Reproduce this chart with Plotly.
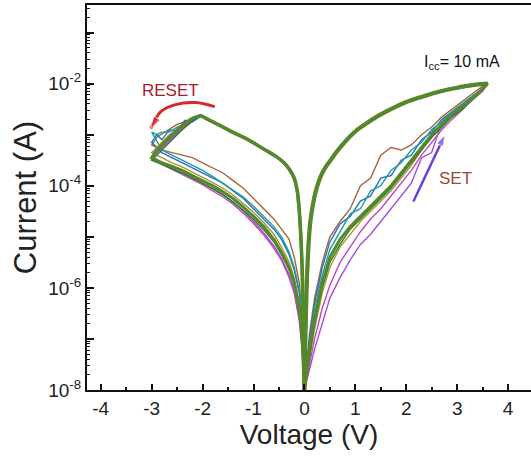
import plotly.graph_objects as go

# ---------------- data (log10 of current in A) ----------------
SET_V = [0.0, 0.1, 0.2, 0.35, 0.5, 0.7, 0.9, 1.1, 1.3, 1.5, 1.7, 1.9, 2.1, 2.3, 2.5, 2.7, 2.9, 3.1, 3.3, 3.5, 3.6]
LRS_POS_V = [3.6, 3.45, 3.3, 3.15, 3.0, 2.8, 2.6, 2.4, 2.2, 2.0, 1.8, 1.6, 1.4, 1.2, 1.04, 0.88, 0.71, 0.6,
             0.5, 0.42, 0.35, 0.28, 0.22, 0.17, 0.12, 0.09, 0.07, 0.05, 0.035, 0.02, 0.01, 0.0]
LRS_POS_LOG = [-2.0, -2.01, -2.03, -2.05, -2.08, -2.12, -2.17, -2.23, -2.29, -2.36, -2.45, -2.55, -2.66, -2.79,
               -2.9, -3.05, -3.24, -3.38, -3.52, -3.63, -3.75, -3.92, -4.12, -4.35, -4.67, -5.0, -5.35, -5.8,
               -6.3, -6.9, -7.5, -8.0]
LRS_NEG_V = [0.0, -0.01, -0.02, -0.03, -0.045, -0.07, -0.1, -0.14, -0.2, -0.3, -0.4, -0.55, -0.73, -0.9,
             -1.1, -1.39, -1.6, -1.8, -1.95, -2.05]
LRS_NEG_LOG = [-8.0, -7.4, -6.8, -6.2, -5.6, -5.0, -4.5, -4.1, -3.85, -3.67, -3.55, -3.43, -3.32, -3.22,
               -3.1, -2.96, -2.85, -2.75, -2.67, -2.62]
RS_V = [-2.05, -2.2, -2.35, -2.5, -2.65, -2.8, -2.9, -3.0]
RET_V = [-3.0, -2.8, -2.6, -2.4, -2.2, -2.0, -1.8, -1.6, -1.4, -1.2, -1.0, -0.8, -0.6, -0.45, -0.3, -0.2, -0.1, -0.05, 0.0]

cycle_colors = ["#a24be0", "#c048b8", "#a8643c", "#2d6fc0", "#1a9e9e", "#a39a2a", "#2f7a2f", "#55882a"]

set_log = [
    [-8.0, -7.6, -7.2, -6.7, -6.2, -5.8, -5.45, -5.15, -4.95, -4.7, -4.45, -4.2, -3.95, -3.45, -3.35, -2.75, -2.55, -2.4, -2.25, -2.1, -2.0],
    [-8.0, -7.5, -7.0, -6.4, -5.95, -5.5, -5.2, -4.9, -4.65, -4.45, -4.2, -3.95, -3.7, -3.4, -3.15, -2.9, -2.7, -2.5, -2.32, -2.15, -2.0],
    [-8.0, -6.9, -6.2, -5.5, -5.0, -4.7, -4.45, -4.0, -3.85, -3.4, -3.25, -3.3, -3.2, -3.0, -2.85, -2.65, -2.5, -2.35, -2.2, -2.05, -2.0],
    [-8.0, -7.0, -6.3, -5.6, -5.1, -4.75, -4.6, -4.3, -4.2, -3.85, -3.8, -3.5, -3.4, -3.1, -2.95, -2.7, -2.55, -2.4, -2.25, -2.1, -2.0],
    [-8.0, -7.1, -6.4, -5.75, -5.25, -4.9, -4.55, -4.45, -4.1, -4.0, -3.7, -3.55, -3.3, -3.15, -2.9, -2.75, -2.55, -2.4, -2.25, -2.1, -2.0],
    [-8.0, -7.4, -6.8, -6.1, -5.6, -5.2, -4.95, -4.7, -4.5, -4.3, -4.1, -3.85, -3.6, -3.3, -3.05, -2.85, -2.65, -2.45, -2.3, -2.1, -2.0],
    [-8.0, -7.3, -6.7, -6.0, -5.5, -5.15, -4.85, -4.65, -4.45, -4.25, -4.05, -3.8, -3.55, -3.3, -3.05, -2.85, -2.65, -2.5, -2.3, -2.12, -2.0],
    [-8.0, -7.2, -6.6, -5.9, -5.4, -5.05, -4.8, -4.6, -4.4, -4.2, -4.0, -3.75, -3.5, -3.25, -3.0, -2.8, -2.6, -2.45, -2.3, -2.1, -2.0],
]
rs_log = [
    [-2.62, -2.7, -2.82, -2.95, -3.1, -3.25, -3.35, -3.45],
    [-2.62, -2.74, -2.86, -2.98, -3.12, -3.26, -3.36, -3.48],
    [-2.62, -2.66, -2.75, -2.8, -2.9, -3.0, -3.05, -3.2],
    [-2.65, -2.75, -2.72, -2.95, -2.9, -3.1, -3.0, -3.15],
    [-2.63, -2.7, -2.8, -2.85, -2.95, -2.95, -3.0, -2.95],
    [-2.62, -2.7, -2.8, -2.92, -3.0, -3.15, -3.25, -3.35],
    [-2.62, -2.72, -2.85, -3.0, -3.15, -3.28, -3.38, -3.5],
    [-2.62, -2.68, -2.78, -2.9, -3.05, -3.2, -3.3, -3.45],
]
ret_log = [
    [-3.45, -3.56, -3.65, -3.74, -3.84, -3.95, -4.06, -4.18, -4.32, -4.5, -4.7, -4.92, -5.18, -5.42, -5.75, -6.05, -6.6, -7.1, -8.0],
    [-3.48, -3.58, -3.68, -3.78, -3.88, -3.98, -4.1, -4.22, -4.36, -4.54, -4.74, -4.96, -5.22, -5.46, -5.8, -6.1, -6.65, -7.15, -8.0],
    [-3.2, -3.3, -3.35, -3.4, -3.45, -3.55, -3.65, -3.75, -3.9, -4.05, -4.25, -4.45, -4.65, -4.85, -5.05, -5.4, -5.9, -6.5, -8.0],
    [-3.15, -3.35, -3.45, -3.55, -3.65, -3.75, -3.85, -3.95, -4.1, -4.25, -4.45, -4.65, -4.85, -5.05, -5.35, -5.65, -6.1, -6.6, -8.0],
    [-2.95, -3.3, -3.4, -3.5, -3.6, -3.7, -3.82, -3.95, -4.08, -4.22, -4.4, -4.6, -4.8, -5.0, -5.3, -5.6, -6.05, -6.6, -8.0],
    [-3.35, -3.45, -3.55, -3.63, -3.73, -3.83, -3.94, -4.05, -4.18, -4.35, -4.52, -4.72, -4.95, -5.2, -5.5, -5.8, -6.3, -6.8, -8.0],
    [-3.5, -3.58, -3.66, -3.75, -3.85, -3.95, -4.05, -4.18, -4.32, -4.48, -4.66, -4.86, -5.1, -5.35, -5.65, -5.95, -6.45, -7.0, -8.0],
    [-3.45, -3.55, -3.62, -3.7, -3.8, -3.9, -4.0, -4.12, -4.25, -4.42, -4.6, -4.8, -5.05, -5.3, -5.6, -5.9, -6.4, -6.9, -8.0],
]

# arrows (voltage, log10 current)
RESET_ARROW_V = [-1.76, -2.14, -2.53, -2.82, -3.02]
RESET_ARROW_LOG = [-2.45, -2.37, -2.41, -2.55, -2.88]
SET_ARROW_V = [2.14, 2.76]
SET_ARROW_LOG = [-4.31, -3.0]

Y_TICK_EXP = [-8, -7, -6, -5, -4, -3, -2, -1]

GREEN = "#55882a"
fig = go.Figure()

for i, col in enumerate(cycle_colors):
    v = SET_V + LRS_POS_V + LRS_NEG_V + RS_V + RET_V
    lg = set_log[i] + LRS_POS_LOG + LRS_NEG_LOG + rs_log[i] + ret_log[i]
    main = (i == len(cycle_colors) - 1)
    fig.add_trace(go.Scatter(
        x=v, y=[10 ** e for e in lg], mode="lines",
        line=dict(color=col, width=3.0 if main else 1.4),
        hoverinfo="skip", showlegend=False))

# thick shared LRS branch
fig.add_trace(go.Scatter(
    x=LRS_POS_V, y=[10 ** e for e in LRS_POS_LOG],
    mode="lines", line=dict(color=GREEN, width=4.2, shape="spline", smoothing=0.6),
    hoverinfo="skip", showlegend=False))
fig.add_trace(go.Scatter(
    x=LRS_NEG_V, y=[10 ** e for e in LRS_NEG_LOG],
    mode="lines", line=dict(color=GREEN, width=3.6, shape="spline", smoothing=0.6),
    hoverinfo="skip", showlegend=False))

# RESET arrow
n = len(RESET_ARROW_V)
fig.add_trace(go.Scatter(
    x=RESET_ARROW_V, y=[10 ** e for e in RESET_ARROW_LOG], mode="lines+markers",
    line=dict(color="#d42a2a", width=3, shape="spline"),
    marker=dict(symbol="arrow", angleref="previous", size=[0] * (n - 1) + [13], color="#d42a2a"),
    hoverinfo="skip", showlegend=False))
# SET arrow
fig.add_trace(go.Scatter(
    x=SET_ARROW_V, y=[10 ** e for e in SET_ARROW_LOG], mode="lines+markers",
    line=dict(color="#6a3ee0", width=2.5),
    marker=dict(symbol="arrow", angleref="previous", size=[0, 12], color="#6a3ee0"),
    hoverinfo="skip", showlegend=False))

fig.add_annotation(x=-2.63, y=-2.14, xref="x", yref="y", text="RESET", showarrow=False,
                   font=dict(size=17, color="#a81c2c", family="Liberation Sans, Arial"))
fig.add_annotation(x=2.96, y=-3.86, xref="x", yref="y", text="SET", showarrow=False,
                   font=dict(size=17, color="#9a4a3a", family="Liberation Sans, Arial"))
fig.add_annotation(x=3.1, y=-1.59, xref="x", yref="y", text="I<sub>cc</sub>= 10 mA", showarrow=False,
                   font=dict(size=16, color="#111111", family="Liberation Sans, Arial"))

minor_vals = [k * 10.0 ** e for e in range(-8, 0) for k in range(2, 10)]

fig.update_layout(
    width=531, height=461,
    margin=dict(l=87, r=0, t=5, b=71),
    paper_bgcolor="white", plot_bgcolor="white",
    font=dict(family="Liberation Sans, Arial", color="#222222"),
    showlegend=False,
)
fig.update_xaxes(
    range=[-4.27, 4.45], tickmode="array", tickvals=[-4, -3, -2, -1, 0, 1, 2, 3, 4],
    ticktext=["-4", "-3", "-2", "-1", "0", "1", "2", "3", "4"],
    ticks="inside", ticklen=6, tickwidth=2, tickcolor="#111111",
    minor=dict(ticks="inside", ticklen=3, tickwidth=2, tickcolor="#111111", dtick=0.5, tick0=0, showgrid=False),
    showline=True, linewidth=2, linecolor="#111111", mirror=True,
    showgrid=False, zeroline=False,
    tickfont=dict(size=19, color="#222222"),
    title=dict(text="Voltage (V)", font=dict(size=28, color="#222222"), standoff=6),
)
fig.update_yaxes(
    type="log", range=[-8, -0.46],
    tickmode="array", tickvals=[10.0 ** e for e in Y_TICK_EXP],
    ticktext=["10<sup>%d</sup>" % e if e % 2 == 0 else "" for e in Y_TICK_EXP],
    ticks="inside", ticklen=7, tickwidth=2, tickcolor="#111111",
    minor=dict(tickmode="array", tickvals=minor_vals, ticks="inside", ticklen=3, tickwidth=1, tickcolor="#111111", showgrid=False),
    showline=True, linewidth=2, linecolor="#111111", mirror=False,
    showgrid=False, zeroline=False,
    tickfont=dict(size=19, color="#222222"),
    title=dict(text="Current (A)", font=dict(size=31, color="#222222"), standoff=2),
)

fig.write_html("out.html")
